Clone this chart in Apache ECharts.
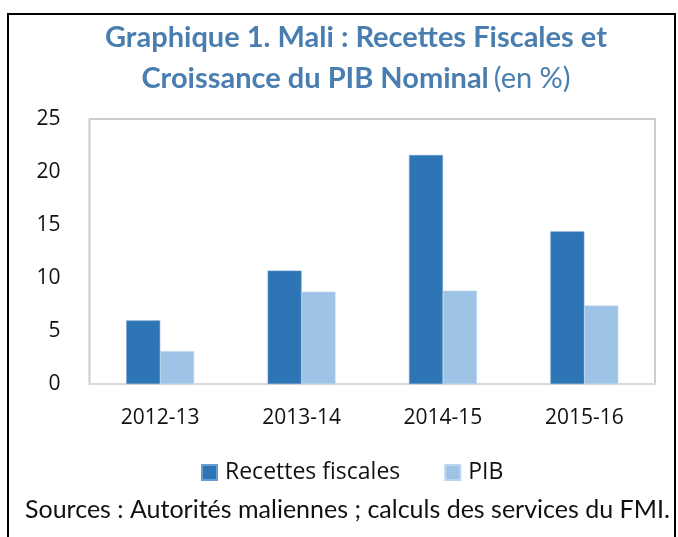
<!DOCTYPE html>
<html><head><meta charset="utf-8">
<script src="https://cdn.jsdelivr.net/npm/echarts@6/dist/echarts.min.js"></script>
<style>html,body{margin:0;padding:0;background:#fff}#c{width:678px;height:537px}</style>
</head><body><div id="c"></div>
<script>
const categories = ['2012-13', '2013-14', '2014-15', '2015-16'];
const recettesFiscales = [6.0, 10.7, 21.6, 14.4];
const pib = [3.1, 8.7, 8.8, 7.4];
const seriesNames = ['Recettes fiscales', 'PIB'];
const yTicks = [0, 5, 10, 15, 20, 25];

const chart = echarts.init(document.getElementById('c'), null, {renderer: 'canvas'});
chart.setOption({
  animation: false,
  backgroundColor: '#ffffff',
  title: [{
    left: 351, top: 12, textAlign: 'center',
    text: '{b|Graphique 1. Mali : Recettes Fiscales et}\n{b|Croissance du PIB Nominal} {n|(en %)}',
    textStyle: {
      rich: {
        b: {fontFamily: 'Lato', fontWeight: 'bold', fontSize: 29, color: '#4A7EB0', lineHeight: 41},
        n: {fontFamily: 'Lato', fontWeight: 'normal', fontSize: 29, color: '#4A7EB0', lineHeight: 41}
      }
    }
  }, {
    left: 20, top: 492,
    text: 'Sources : Autorités maliennes ; calculs des services du FMI.',
    textStyle: {fontFamily: 'Lato', fontWeight: 'normal', fontSize: 25, color: '#111111'}
  }],
  graphic: [{
    type: 'rect', silent: true,
    shape: {x: 8, y: 14, width: 667, height: 540},
    style: {fill: 'none', stroke: '#000000', lineWidth: 2}
  }],
  legend: {
    left: 196, top: 456,
    itemWidth: 15, itemHeight: 15, itemGap: 44,
    icon: 'rect',
    textStyle: {fontFamily: 'Open Sans', fontSize: 23, color: '#111111', padding: [0, 0, 0, 3]},
    data: seriesNames
  },
  grid: {
    left: 89.5, right: 23, top: 119, bottom: 153,
    show: true, borderColor: '#cccccc', borderWidth: 2, backgroundColor: '#ffffff'
  },
  xAxis: {
    type: 'category', data: categories,
    axisLine: {show: true, lineStyle: {color: '#d9d9d9', width: 2}},
    axisTick: {show: false},
    axisLabel: {fontFamily: 'Open Sans', fontSize: 21, color: '#111111', margin: 24}
  },
  yAxis: {
    type: 'value', min: yTicks[0], max: yTicks[yTicks.length - 1], interval: 5,
    axisLine: {show: false}, axisTick: {show: false}, splitLine: {show: false},
    axisLabel: {fontFamily: 'Open Sans', fontSize: 21, color: '#111111', margin: 29}
  },
  series: [{
    name: seriesNames[0], type: 'bar', data: recettesFiscales,
    barWidth: '24%', barGap: '0%',
    itemStyle: {color: '#2E75B6', borderColor: '#6a9bcf', borderWidth: 0.6}
  }, {
    name: seriesNames[1], type: 'bar', data: pib,
    barWidth: '24%', barGap: '0%',
    itemStyle: {color: '#9DC3E6', borderColor: '#b9d5ef', borderWidth: 0.6}
  }]
});
</script></body></html>
